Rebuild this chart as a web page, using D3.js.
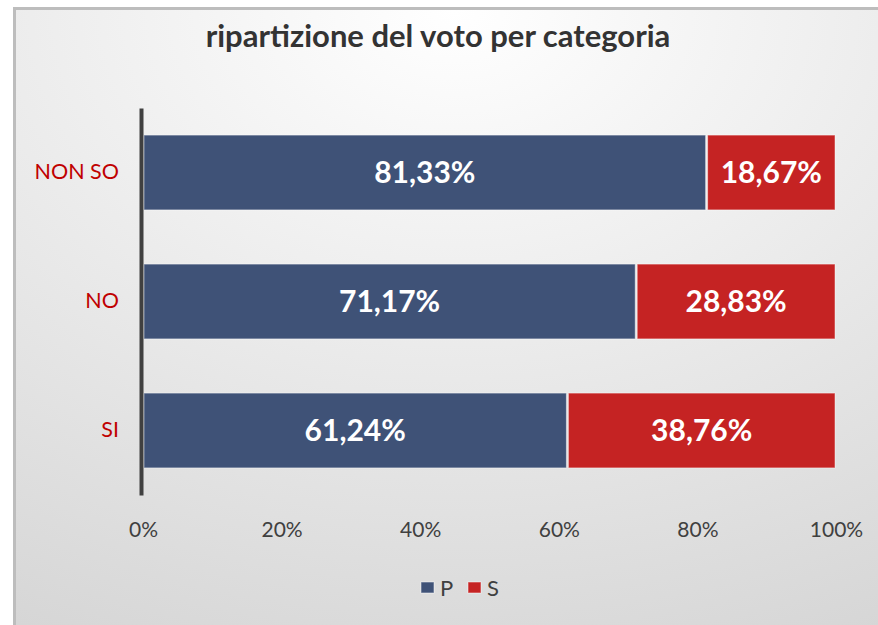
<!DOCTYPE html>
<html>
<head>
<meta charset="utf-8">
<script src="https://cdn.jsdelivr.net/npm/d3@7"></script>
<style>
  body { margin: 0; background: #fff; }
  svg text { font-family: Lato, "Open Sans", sans-serif; }
</style>
</head>
<body>
<div id="chart"></div>
<script>
// data
const categories = ["NON SO", "NO", "SI"];
const seriesNames = ["P", "S"];
const valuesP = [81.33, 71.17, 61.24];
const valuesS = [18.67, 28.83, 38.76];
const xTicks = [0, 20, 40, 60, 80, 100];
const colors = { P: "#3f5277", S: "#c52323" };

const width = 878;
const height = 625;
const margin = { top: 108, bottom: 130, left: 143, right: 42 };

const svg = d3.select("#chart").append("svg")
    .attr("width", width)
    .attr("height", height);

// background panel with soft gradient
const defs = svg.append("defs");
const grad = defs.append("radialGradient")
    .attr("id", "bg")
    .attr("cx", "50%").attr("cy", "0%").attr("r", "110%")
    .attr("fx", "50%").attr("fy", "0%");
grad.append("stop").attr("offset", "0%").attr("stop-color", "#ffffff");
grad.append("stop").attr("offset", "100%").attr("stop-color", "#d6d6d6");

svg.append("rect")
    .attr("x", 16).attr("y", 10)
    .attr("width", width).attr("height", height)
    .attr("fill", "url(#bg)");
svg.append("rect")
    .attr("x", 14.5).attr("y", 8.5)
    .attr("width", width).attr("height", height)
    .attr("fill", "none")
    .attr("stroke", "#bdbdbd")
    .attr("stroke-width", 3);

// title
svg.append("text")
    .attr("x", 438)
    .attr("y", 47)
    .attr("text-anchor", "middle")
    .attr("font-size", 31)
    .attr("font-weight", "bold")
    .attr("fill", "#333333")
    .text("ripartizione del voto per categoria");

const rows = categories.map((c, i) => ({ cat: c, P: valuesP[i], S: valuesS[i] }));
const stacked = d3.stack().keys(seriesNames)(rows);

const x = d3.scaleLinear()
    .domain([0, 100])
    .range([margin.left, width - margin.right]);

const y = d3.scaleBand()
    .domain(categories)
    .range([margin.top, height - margin.bottom])
    .paddingInner(0.42)
    .paddingOuter(0.21);

const g = svg.append("g");

// bars
const layers = g.selectAll(".layer")
    .data(stacked)
    .enter()
    .append("g")
    .attr("class", "layer")
    .attr("fill", d => colors[d.key]);

layers.selectAll("rect")
    .data(d => d.map(v => ({ key: d.key, v })))
    .enter()
    .append("rect")
    .attr("x", d => x(d.v[0]) + 1)
    .attr("y", d => y(d.v.data.cat))
    .attr("width", d => x(d.v[1]) - x(d.v[0]) - 2)
    .attr("height", y.bandwidth())
    .attr("stroke", "rgba(255,255,255,0.45)")
    .attr("stroke-width", 1);

// value labels
layers.selectAll("text")
    .data(d => d.map(v => ({ key: d.key, v })))
    .enter()
    .append("text")
    .attr("x", d => (x(d.v[0]) + x(d.v[1])) / 2)
    .attr("y", d => y(d.v.data.cat) + y.bandwidth() / 2)
    .attr("dy", "0.36em")
    .attr("text-anchor", "middle")
    .attr("font-size", 30)
    .attr("font-weight", "bold")
    .attr("fill", "#ffffff")
    .text(d => (d.v[1] - d.v[0]).toFixed(2).replace(".", ",") + "%");

// category axis
const yAxis = svg.append("g")
    .attr("transform", "translate(" + (margin.left - 2) + ",0)")
    .call(d3.axisLeft(y).tickSize(0).tickPadding(22));
yAxis.select(".domain")
    .attr("stroke", "#404040")
    .attr("stroke-width", 4);
yAxis.selectAll("text")
    .attr("font-size", 21.5)
    .attr("fill", "#c00000")
    .style("font-family", "Lato, 'Open Sans', sans-serif");

// percent axis
const xAxis = svg.append("g")
    .attr("transform", "translate(0," + (height - margin.bottom) + ")")
    .call(d3.axisBottom(x).tickValues(xTicks).tickFormat(d => d + "%").tickSize(0).tickPadding(27));
xAxis.select(".domain").remove();
xAxis.selectAll("text")
    .attr("font-size", 21)
    .attr("fill", "#404040")
    .style("font-family", "Lato, 'Open Sans', sans-serif");

// legend
const legend = svg.append("g")
    .attr("transform", "translate(421,588)");
const items = legend.selectAll("g")
    .data(seriesNames)
    .enter()
    .append("g")
    .attr("transform", (d, i) => "translate(" + (i * 47) + ",0)");
items.append("rect")
    .attr("x", 0).attr("y", -6)
    .attr("width", 13).attr("height", 11)
    .attr("fill", d => colors[d])
    .attr("stroke", "rgba(255,255,255,0.5)");
items.append("text")
    .attr("x", 19)
    .attr("y", 0)
    .attr("dy", "0.36em")
    .attr("font-size", 22)
    .attr("fill", "#404040")
    .text(d => d);
</script>
</body>
</html>
